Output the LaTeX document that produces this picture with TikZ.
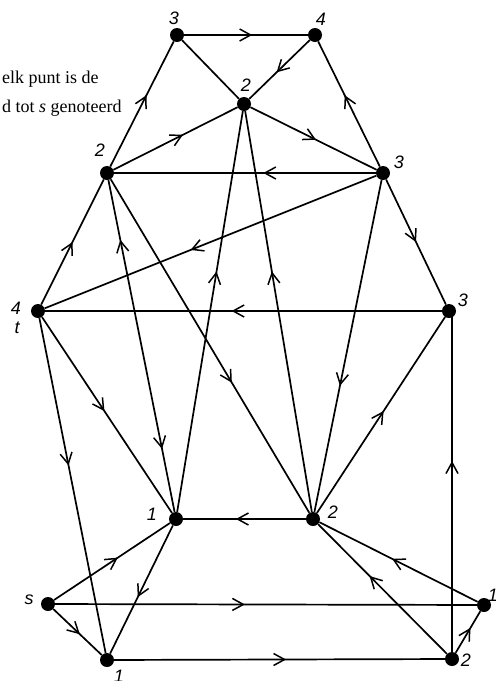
\documentclass[tikz,border=0pt]{standalone}
\usepackage{fontspec}
\setmainfont{Liberation Serif}
\newfontfamily\labfont{Liberation Sans}
\usetikzlibrary{decorations.markings,arrows.meta}
\begin{document}
\begin{tikzpicture}[x=1pt,y=-1pt,
  dot/.style={circle,fill=black,inner sep=0pt,minimum size=14pt},
  lab/.style={font=\labfont\itshape\fontsize{18}{18}\selectfont,inner sep=0pt},
  txt/.style={font=\fontsize{18}{18}\selectfont,inner sep=0pt,anchor=base west},
  edge/.style={line width=1.7pt},
  ar/.style={edge,postaction={decorate},decoration={markings,
    mark=at position #1 with {\arrow{Straight Barb[length=11pt,width=12pt,line width=1.5pt]}}}},
  ar/.default=0.55,
  twoway/.style={edge,postaction={decorate},decoration={markings,
    mark=at position 0.19 with {\arrowreversed{Straight Barb[length=11pt,width=12pt,line width=1.5pt]}},
    mark=at position 0.82 with {\arrow{Straight Barb[length=11pt,width=12pt,line width=1.5pt]}}}}]
\useasboundingbox (0,0) rectangle (496,681);

% text
\node[txt] (t1) at (2,83) {elk punt is de};
\node[txt] (t2) at (2,112) {d tot \textit{s} genoteerd};

% nodes
\node[dot] (A) at (177,35) {};
\node[dot] (B) at (315,35) {};
\node[dot] (C) at (244,104) {};
\node[dot] (D) at (107,173) {};
\node[dot] (E) at (383,173) {};
\node[dot] (T) at (38,311) {};
\node[dot] (F) at (449,311) {};
\node[dot] (G) at (176,519) {};
\node[dot] (H) at (313,519) {};
\node[dot] (S) at (48,604) {};
\node[dot] (I) at (107,660) {};
\node[dot] (J) at (452,659) {};
\node[dot] (K) at (484,605) {};

% labels
\node[lab] (lA) at (174,18) {3};
\node[lab] (lB) at (321,19) {4};
\node[lab] (lC) at (246,85) {2};
\node[lab] (lD) at (100,150) {2};
\node[lab] (lE) at (399,162) {3};
\node[lab] (lT) at (16,308) {4};
\node[lab] (lt) at (17,328) {t};
\node[lab] (lF) at (463,300) {3};
\node[lab] (lG) at (152,514) {1};
\node[lab] (lH) at (333,512) {2};
\node[lab] (lS) at (29,600) {s};
\node[lab] (lI) at (119,676) {1};
\node[lab] (lK) at (493,595) {1};
\node[lab] (lJ) at (466,660) {2};

% edges
\draw[ar=0.55] (A) -- (B);
\draw[edge] (A) -- (C);
\draw[ar=0.55] (B) -- (C);
\draw[ar=0.57] (E) -- (B);
\draw[ar=0.57] (D) -- (A);
\draw[ar=0.56] (D) -- (C);
\draw[ar=0.52] (C) -- (E);
\draw[ar=0.43] (E) -- (D);
\draw[ar=0.56] (E) -- (T);
\draw[ar=0.5] (E) -- (F);
\draw[ar=0.62] (E) -- (H);
\draw[ar=0.5] (T) -- (D);
\draw[ar=0.53] (F) -- (T);
\draw[ar=0.52] (H) -- (F);
\draw[ar=0.56] (J) -- (J |- F);
\draw[ar=0.6] (G) -- (C);
\draw[ar=0.6] (H) -- (C);
\draw[twoway] (G) -- (D);
\draw[ar=0.61] (D) -- (H);
\draw[ar=0.48] (T) -- (G);
\draw[ar=0.44] (T) -- (I);
\draw[ar=0.57] (H) -- (G);
\draw[ar=0.55] (S) -- (G);
\draw[ar=0.56] (G) -- (I);
\draw[ar=0.45] (S) -- (K);
\draw[ar=0.55] (S) -- (I);
\draw[ar=0.52] (I) -- (J);
\draw[ar=0.54] (K) -- (H);
\draw[ar=0.6] (J) -- (H);
\draw[ar=0.6] (J) -- (K);
\end{tikzpicture}
\end{document}
